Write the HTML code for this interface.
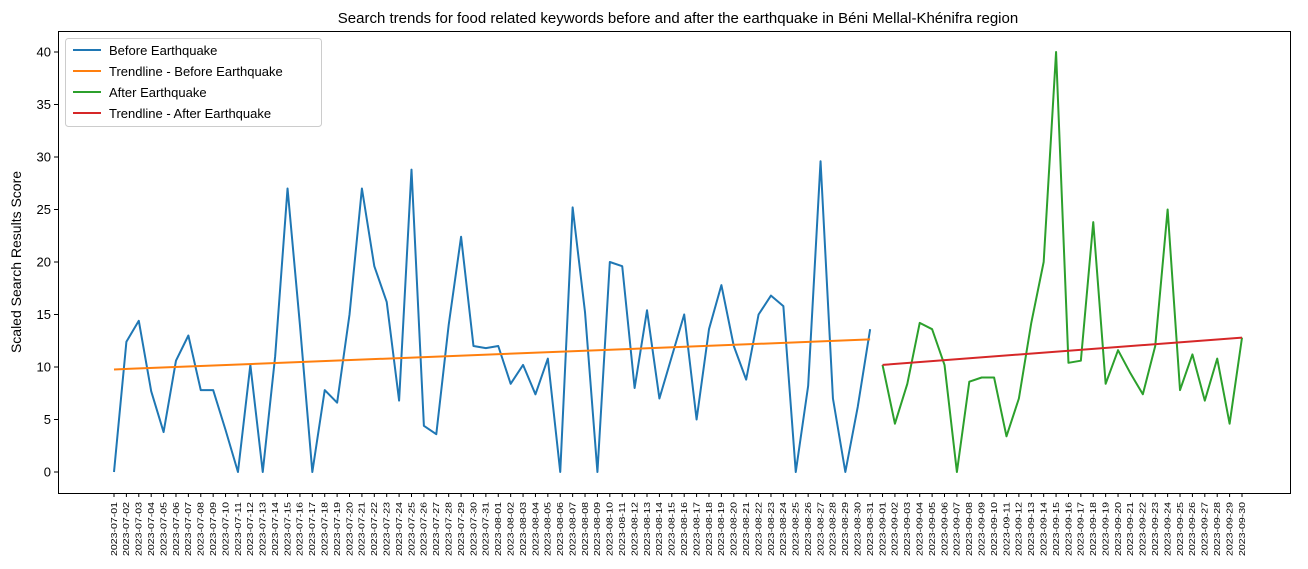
<!DOCTYPE html>
<html><head><meta charset="utf-8">
<style>
body{margin:0;background:#fff;}
svg{display:block;font-family:"Liberation Sans","DejaVu Sans",sans-serif;}
</style></head>
<body>
<svg id="chart" width="1308" height="569" viewBox="0 0 1308 569">
<text x="678" y="23" text-anchor="middle" font-size="15">Search trends for food related keywords before and after the earthquake in Béni Mellal-Khénifra region</text>
<text transform="translate(21,262) rotate(-90)" text-anchor="middle" font-size="14">Scaled Search Results Score</text>
<g id="grid"></g>
<g id="marks"></g>
<rect x="58.5" y="31.5" width="1232" height="462" fill="none" stroke="#000" stroke-width="1"/>
<g>
<rect x="65.5" y="38.5" width="256" height="88" rx="3" fill="#fff" fill-opacity="0.8" stroke="#ccc"/>
<line x1="73" y1="50" x2="101" y2="50" stroke="#1f77b4" stroke-width="2"/>
<text x="109" y="55" font-size="13">Before Earthquake</text>
<line x1="73" y1="71" x2="101" y2="71" stroke="#ff7f0e" stroke-width="2"/>
<text x="109" y="76" font-size="13">Trendline - Before Earthquake</text>
<line x1="73" y1="92" x2="101" y2="92" stroke="#2ca02c" stroke-width="2"/>
<text x="109" y="97" font-size="13">After Earthquake</text>
<line x1="73" y1="113" x2="101" y2="113" stroke="#d62728" stroke-width="2"/>
<text x="109" y="118" font-size="13">Trendline - After Earthquake</text>
</g>
</svg>
<script>
const beforeValues = [0,12.4,14.4,7.7,3.8,10.6,13.0,7.8,7.8,4.0,0,10.2,0,11,27,14,0,7.8,6.6,15,27,19.6,16.2,6.8,28.8,4.4,3.6,14,22.4,12,11.8,
12.0,8.4,10.2,7.4,10.8,0,25.2,15.2,0,20,19.6,8,15.4,7,11,15,5,13.6,17.8,12,8.8,15,16.8,15.8,0,8.2,29.6,7,0,6.2,13.6];
const afterValues = [10.2,4.6,8.4,14.2,13.6,10.2,0,8.6,9,9,3.4,7,14.2,20,40,10.4,10.6,23.8,8.4,11.6,9.4,7.4,12,25,7.8,11.2,6.8,10.8,4.6,12.8];
const yTicks = [0,5,10,15,20,25,30,35,40];

const NS = "http://www.w3.org/2000/svg";
const svg = document.getElementById('chart');
const marks = document.getElementById('marks');
const grid = document.getElementById('grid');
const x0 = 114, dx = 1128/91;
function xs(i){return x0 + i*dx;}
function ys(v){return 472 - v*10.5;}
function mk(tag, attrs, parent){const e=document.createElementNS(NS,tag);for(const k in attrs)e.setAttribute(k,attrs[k]);parent.appendChild(e);return e;}

const dates=[];
const d=new Date(Date.UTC(2023,6,1));
const total = beforeValues.length + afterValues.length;
for(let i=0;i<total;i++){dates.push(d.toISOString().slice(0,10));d.setUTCDate(d.getUTCDate()+1);}

yTicks.forEach(t=>{
  const tk=mk('line',{x1:54,x2:58,y1:ys(t),y2:ys(t),stroke:'#000'},grid);
  
  
  const tx=mk('text',{x:51,y:ys(t)+4.5,'text-anchor':'end','font-size':13},grid);
  tx.textContent=t;
  
  
});
dates.forEach((s,i)=>{
  const x=xs(i);
  const tk=mk('line',{x1:x,x2:x,y1:493,y2:497,stroke:'#000'},grid);
  
  
  const tx=mk('text',{transform:`translate(${x+2.8},502) rotate(-90)`,'text-anchor':'end','font-size':8.5,textLength:54,lengthAdjust:'spacingAndGlyphs'},grid);
  tx.textContent=s;
  
  
});

function fit(vals){const n=vals.length;let sx=0,sy=0,sxy=0,sxx=0;vals.forEach((v,i)=>{sx+=i;sy+=v;sxy+=i*v;sxx+=i*i;});const m=(n*sxy-sx*sy)/(n*sxx-sx*sx);return [m,(sy-m*sx)/n];}
function line(vals,off,color,name){
  const p=mk('polyline',{points:vals.map((v,i)=>xs(i+off)+','+ys(v)).join(' '),fill:'none',stroke:color,'stroke-width':2,'stroke-linejoin':'round'},marks);
  
  
}
function trend(vals,off,color,name){
  const [m,b]=fit(vals);const n=vals.length;
  const p=mk('line',{x1:xs(off),y1:ys(b),x2:xs(off+n-1),y2:ys(b+m*(n-1)),stroke:color,'stroke-width':2},marks);
  
  
}
line(beforeValues,0,'#1f77b4','before-earthquake-line');
trend(beforeValues,0,'#ff7f0e','trendline-before');
line(afterValues,beforeValues.length,'#2ca02c','after-earthquake-line');
trend(afterValues,beforeValues.length,'#d62728','trendline-after');
</script>
</body></html>
